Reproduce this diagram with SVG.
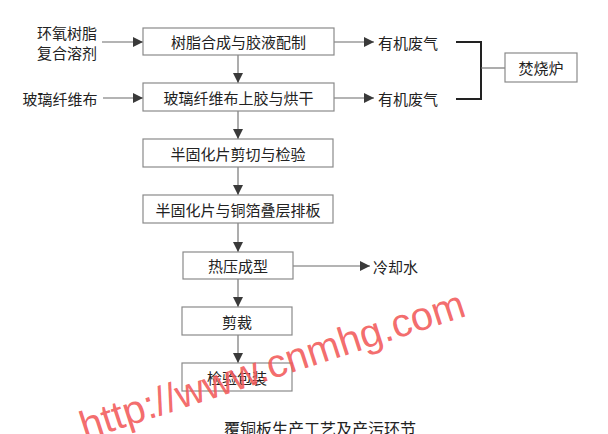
<svg xmlns="http://www.w3.org/2000/svg" width="608" height="434" viewBox="0 0 608 434">
<style>
.box{fill:#fff;stroke:#8a8a8a;stroke-width:1.2}
.t{font-family:"Noto Sans CJK SC","Liberation Serif",serif;font-size:15px;fill:#222;dominant-baseline:central}
.c{text-anchor:middle}
.ln{stroke:#6a6a6a;stroke-width:1.1;fill:none}
.br{stroke:#222;stroke-width:2;fill:none}
.wm{font-family:"Liberation Sans",Arial,sans-serif;font-size:40px;fill:#f25a5a;fill-opacity:0.9}
</style>
<defs>
<marker id="ah" viewBox="0 0 10 10" refX="10" refY="5" markerWidth="10" markerHeight="10" markerUnits="userSpaceOnUse" orient="auto">
<path d="M0,0 L10,5 L0,10 z" fill="#3a3a3a"/>
</marker>
</defs>
<rect width="608" height="434" fill="#fff"/>
<g id="connectors">
<line class="ln" x1="102" y1="42" x2="143" y2="42" marker-end="url(#ah)"/>
<line class="ln" x1="103" y1="98" x2="143" y2="98" marker-end="url(#ah)"/>
<line class="ln" x1="334" y1="42" x2="374" y2="42" marker-end="url(#ah)"/>
<line class="ln" x1="334" y1="98" x2="374" y2="98" marker-end="url(#ah)"/>
<line class="ln" x1="238" y1="55" x2="238" y2="83" marker-end="url(#ah)"/>
<line class="ln" x1="238" y1="111" x2="238" y2="139" marker-end="url(#ah)"/>
<line class="ln" x1="238" y1="167" x2="238" y2="195" marker-end="url(#ah)"/>
<line class="ln" x1="238" y1="223" x2="238" y2="252" marker-end="url(#ah)"/>
<line class="ln" x1="238" y1="279" x2="238" y2="307" marker-end="url(#ah)"/>
<line class="ln" x1="238" y1="335" x2="238" y2="363" marker-end="url(#ah)"/>
<line class="ln" x1="293" y1="266" x2="370" y2="266" marker-end="url(#ah)"/>
<path class="br" d="M456,42 H481 V99 H456"/>
<line class="ln" x1="481" y1="68" x2="505" y2="68"/>
</g>
<g id="in1"><text class="t c" x="67" y="32">环氧树脂</text><text class="t c" x="67" y="52">复合溶剂</text></g>
<g id="in2"><text class="t c" x="60" y="98">玻璃纤维布</text></g>
<g id="n1"><rect class="box" x="143" y="28" width="191" height="27"/><text class="t c" x="238.5" y="41.5">树脂合成与胶液配制</text></g>
<g id="n2"><rect class="box" x="143" y="83" width="191" height="28"/><text class="t c" x="238.5" y="97">玻璃纤维布上胶与烘干</text></g>
<g id="g1"><text class="t" x="378" y="42">有机废气</text></g>
<g id="g2"><text class="t" x="378" y="98">有机废气</text></g>
<g id="n8"><rect class="box" x="505" y="53" width="72" height="29"/><text class="t c" x="541" y="67.5">焚烧炉</text></g>
<g id="n3"><rect class="box" x="143" y="139" width="190" height="28"/><text class="t c" x="238" y="153">半固化片剪切与检验</text></g>
<g id="n4"><rect class="box" x="143" y="195" width="190" height="28"/><text class="t c" x="238" y="209">半固化片与铜箔叠层排板</text></g>
<g id="n5"><rect class="box" x="183" y="252" width="110" height="27"/><text class="t c" x="238" y="265.5">热压成型</text></g>
<g id="w1"><text class="t" x="373" y="266">冷却水</text></g>
<g id="n6"><rect class="box" x="182" y="307" width="110" height="28"/><text class="t c" x="237" y="321">剪裁</text></g>
<g id="n7"><rect class="box" x="182" y="363" width="110" height="28"/><text class="t c" x="237" y="377">检验包装</text></g>
<text class="t c" x="320" y="428" style="font-size:16px">覆铜板生产工艺及产污环节</text>
<text class="wm" x="85" y="440" transform="rotate(-18 85 440)">http://www.cnmhg.com</text>
</svg>
